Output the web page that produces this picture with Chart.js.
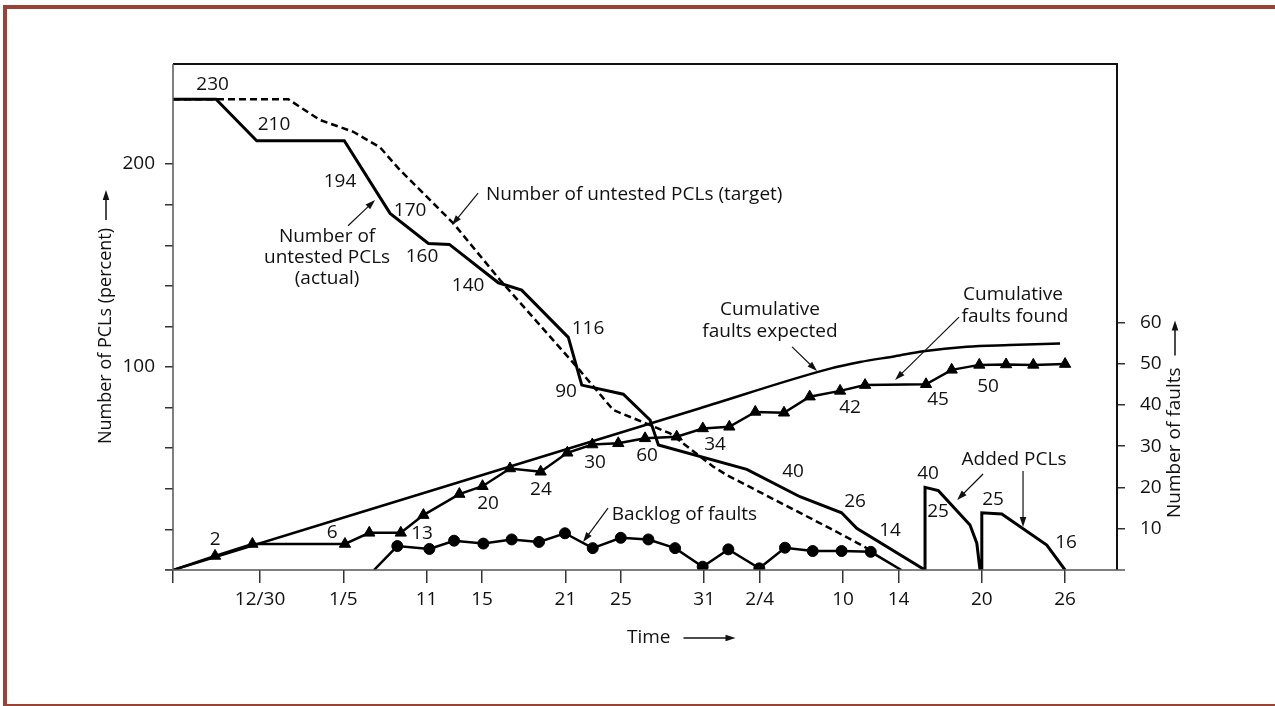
<!DOCTYPE html>
<html>
<head>
<meta charset="utf-8">
<script src="https://cdn.jsdelivr.net/npm/chart.js@4.4.1/dist/chart.umd.min.js"></script>
<style>
  html, body { margin: 0; padding: 0; background: #fff; }
  #wrap { position: relative; width: 1275px; height: 706px; overflow: hidden; }
  #c { position: absolute; left: 0; top: 0; }
  #frame {
    position: absolute; left: 3px; top: 5px; right: -10px; bottom: 0;
    border-top: 4px solid #9b4236; border-left: 4px solid #9b4236; border-bottom: 2px solid #9b4236;
    pointer-events: none;
  }
</style>
</head>
<body>
<div id="wrap">
  <canvas id="c" width="1275" height="706"></canvas>
  <div id="frame"></div>
</div>
<script>
// time axis: days counted from 12/30
const xTickDays = [-6.27, 0, 6, 12, 16, 22, 26, 32, 36, 42, 46, 52, 58];
const xTickLabels = ['', '12/30', '1/5', '11', '15', '21', '25', '31', '2/4', '10', '14', '20', '26'];
const leftTicks = [0, 20, 40, 60, 80, 100, 120, 140, 160, 180, 200];
const rightTicks = [10, 20, 30, 40, 50, 60];

// number of untested PCLs, actual (left axis)
const actualDays = [-6.27, -3.17, -0.24, 6.07, 9.37, 12.13, 13.64, 17.17, 18.85, 22.21, 23.18, 26.17, 28.1, 28.7,
  35.07, 38.9, 41.9, 42.99, 47.91, 47.91, 48.87, 51.15, 51.64, 51.87, 52.0, 52.0, 53.44, 56.68, 58.0];
const actualVals = [231.9, 231.9, 211.5, 211.5, 175.7, 160.9, 160.4, 141.5, 137.9, 114.6, 91.1, 86.6, 73.9, 61.6,
  49.6, 36.1, 28.2, 20.5, 0, 40.7, 39.1, 22.2, 13.2, 0, 0, 28.2, 27.6, 12.3, 0];

// number of untested PCLs, target (left axis)
const targetDays = [-6.27, 2.04, 4.32, 6.72, 8.65, 10.09, 13.93, 17.29, 22.82, 25.45, 28.1, 29.54, 32.66, 33.62, 41.07, 43.59, 44.0];
const targetVals = [231.9, 231.9, 221.7, 215.9, 208.2, 197.0, 170.8, 142.9, 100.1, 78.8, 71.4, 67.3, 50.9, 46.8, 20.5, 11.3, 9.0];

// cumulative faults expected (right axis)
const expectedDays = [-6.27, 31.7, 41.07, 43.23, 45.75, 47.79, 50.92, 54.0, 57.64];
const expectedVals = [0, 39.2, 48.8, 50.4, 51.8, 53.0, 54.1, 54.5, 54.9];

// cumulative faults found (right axis)
const foundDays = [-6.27, -3.24, -0.55, 6.12, 7.87, 10.14, 11.77, 14.36, 16.03, 18.01, 20.22, 22.14, 23.94, 25.81,
  27.74, 30.02, 31.9, 33.81, 35.68, 37.75, 39.6, 41.79, 43.59, 47.98, 49.83, 51.82, 53.75, 55.71, 58.0];
const foundVals = [0, 3.4, 6.3, 6.3, 9.0, 9.0, 13.3, 18.4, 20.3, 24.6, 23.8, 28.4, 30.4, 30.7,
  31.9, 32.3, 34.3, 34.7, 38.3, 38.1, 42.0, 43.4, 44.8, 45.0, 48.5, 49.7, 49.8, 49.7, 49.9];

// backlog of faults (right axis)
const backlogDays = [8.21, 9.89, 12.2, 13.98, 16.09, 18.13, 20.1, 21.97, 23.97, 25.99, 27.98, 29.9, 31.89, 33.74,
  35.97, 37.82, 39.82, 41.9, 44.0, 46.2];
const backlogVals = [0, 5.8, 5.1, 7.1, 6.4, 7.4, 6.8, 8.9, 5.3, 7.8, 7.4, 5.3, 0.8, 5.0, 0.4, 5.4, 4.6, 4.6, 4.4, 0];

// text notes, placed in (day, left-axis value)
const notes = [
  ['230', -3.42, 239.4], ['210', 1.01, 219.2], ['194', 5.76, 191.6], ['170', 10.81, 177.3], ['160', 11.67, 154.2],
  ['140', 14.99, 139.9], ['116', 23.63, 118.7], ['90', 22.05, 87.7], ['60', 27.88, 56.2], ['40', 38.4, 48.3],
  ['26', 42.87, 33.5], ['14', 45.39, 19.2], ['40', 48.13, 47.3], ['25', 48.85, 28.6], ['25', 52.81, 34.5],
  ['16', 58.07, 13.3], ['2', -3.24, 14.8], ['6', 5.19, 18.2], ['13', 11.67, 17.7], ['20', 16.43, 32.5],
  ['24', 20.24, 39.4], ['30', 24.14, 52.7], ['34', 32.78, 61.6], ['42', 42.51, 79.8], ['45', 48.85, 84.2],
  ['50', 52.45, 90.6],
  ['Number of', 4.83, 164.5], ['untested PCLs', 4.83, 153.7], ['(actual)', 4.83, 143.8],
  ['Cumulative', 36.74, 128.1], ['faults expected', 36.74, 117.7],
  ['Cumulative', 54.25, 135.5], ['faults found', 54.39, 124.9],
  ['Added PCLs', 54.32, 54.4], ['Backlog of faults', 30.58, 27.1]
];
const leftNotes = [['Number of untested PCLs (target)', 16.28, 185.0]];
// pointer arrows: from (day, value) to (day, value)
const pointers = [
  [6.34, 169.6, 8.29, 182.3], [15.71, 185.7, 13.83, 170.0], [38.33, 109.9, 40.13, 98.0],
  [50.36, 124.6, 45.75, 93.6], [52.09, 47.3, 50.22, 34.5], [54.97, 48.8, 54.97, 21.2], [25.07, 30.5, 23.27, 13.8]
];

const pts = (xs, ys) => xs.map((x, i) => ({x: x, y: ys[i]}));

function arrow(ctx, x1, y1, x2, y2, w, head) {
  const a = Math.atan2(y2 - y1, x2 - x1);
  const c = Math.cos(a), s = Math.sin(a);
  ctx.lineWidth = w;
  ctx.beginPath();
  ctx.moveTo(x1, y1);
  ctx.lineTo(x2 - c * head * 0.7, y2 - s * head * 0.7);
  ctx.stroke();
  ctx.beginPath();
  ctx.moveTo(x2, y2);
  ctx.lineTo(x2 - head * c + head * 0.33 * s, y2 - head * s - head * 0.33 * c);
  ctx.lineTo(x2 - head * c - head * 0.33 * s, y2 - head * s + head * 0.33 * c);
  ctx.closePath();
  ctx.fill();
}

const overlay = {
  id: 'overlay',
  afterDatasetsDraw(chart) {
    const {ctx, chartArea: a, scales} = chart;
    const X = v => scales.x.getPixelForValue(v);
    const Y = v => scales.yL.getPixelForValue(v);
    ctx.save();
    // plot box
    ctx.strokeStyle = '#111';
    ctx.lineWidth = 2;
    ctx.beginPath();
    ctx.moveTo(a.left, a.top); ctx.lineTo(a.right, a.top); ctx.lineTo(a.right, a.bottom);
    ctx.stroke();
    ctx.strokeStyle = '#555';
    ctx.lineWidth = 1.5;
    ctx.beginPath();
    ctx.moveTo(a.left, a.top); ctx.lineTo(a.left, a.bottom);
    ctx.moveTo(a.left - 8, a.bottom); ctx.lineTo(a.right + 8, a.bottom);
    ctx.stroke();

    ctx.fillStyle = '#111';
    ctx.strokeStyle = '#111';
    ctx.font = "19px 'Open Sans', sans-serif";
    ctx.textBaseline = 'middle';
    ctx.textAlign = 'center';
    notes.forEach(n => ctx.fillText(n[0], X(n[1]), Y(n[2])));
    ctx.textAlign = 'left';
    leftNotes.forEach(n => ctx.fillText(n[0], X(n[1]), Y(n[2])));
    pointers.forEach(p => arrow(ctx, X(p[0]), Y(p[1]), X(p[2]), Y(p[3]), 1.2, 10));

    // axis titles
    const mid = (a.top + a.bottom) / 2;
    ctx.font = "18px 'Open Sans', sans-serif";
    let t = 'Number of PCLs (percent)';
    let w = ctx.measureText(t).width;
    let total = w + 8 + 30;
    ctx.save();
    ctx.translate(106, mid + total / 2);
    ctx.rotate(-Math.PI / 2);
    ctx.fillText(t, 0, 0);
    arrow(ctx, w + 8, 0, w + 38, 0, 1.5, 10);
    ctx.restore();

    ctx.font = "19px 'Open Sans', sans-serif";
    t = 'Number of faults';
    w = ctx.measureText(t).width;
    ctx.save();
    ctx.translate(1175, 518);
    ctx.rotate(-Math.PI / 2);
    ctx.fillText(t, 0, 0);
    arrow(ctx, w + 12, 0, w + 47, 0, 1.5, 10);
    ctx.restore();

    t = 'Time';
    w = ctx.measureText(t).width;
    ctx.fillText(t, 627, 638);
    arrow(ctx, 627 + w + 13, 638, 627 + w + 65, 638, 1.5, 10);
    ctx.restore();
  }
};

Chart.defaults.font.family = "'Open Sans', sans-serif";
Chart.defaults.font.size = 19;
Chart.defaults.color = '#111';

const tickGrid = len => ({display: true, drawOnChartArea: false, drawTicks: true, tickLength: len, color: '#333', lineWidth: 1.5});

new Chart(document.getElementById('c').getContext('2d'), {
  type: 'line',
  data: {
    datasets: [
      {
        label: 'Number of untested PCLs (actual)',
        data: pts(actualDays, actualVals),
        yAxisID: 'yL', borderColor: '#000', borderWidth: 3, pointRadius: 0, tension: 0, fill: false
      },
      {
        label: 'Number of untested PCLs (target)',
        data: pts(targetDays, targetVals),
        yAxisID: 'yL', borderColor: '#000', borderWidth: 2.5, borderDash: [7, 4], pointRadius: 0, tension: 0, fill: false
      },
      {
        label: 'Cumulative faults expected',
        data: pts(expectedDays, expectedVals),
        yAxisID: 'yR', borderColor: '#000', borderWidth: 2.5, pointRadius: 0, cubicInterpolationMode: 'monotone', fill: false
      },
      {
        label: 'Cumulative faults found',
        data: pts(foundDays, foundVals),
        yAxisID: 'yR', borderColor: '#000', borderWidth: 2.5, tension: 0, fill: false,
        pointStyle: 'triangle', pointRadius: foundDays.map((d, i) => i === 0 ? 0 : 6.5),
        pointBackgroundColor: '#000', pointBorderColor: '#000', pointBorderWidth: 1
      },
      {
        label: 'Backlog of faults',
        data: pts(backlogDays, backlogVals),
        yAxisID: 'yR', borderColor: '#000', borderWidth: 2.5, tension: 0, fill: false,
        pointStyle: 'circle', pointRadius: backlogDays.map((d, i) => (i === 0 || i === backlogDays.length - 1) ? 0 : 5.5),
        pointBackgroundColor: '#000', pointBorderColor: '#000', pointBorderWidth: 1
      }
    ]
  },
  options: {
    responsive: false,
    animation: false,
    layout: {padding: {top: 64, left: 0, right: 0, bottom: 0}},
    plugins: {legend: {display: false}, tooltip: {enabled: false}},
    scales: {
      x: {
        type: 'linear', position: 'bottom', min: -6.27, max: 61.74,
        afterBuildTicks: s => { s.ticks = xTickDays.map(v => ({value: v})); },
        afterFit: s => { s.height = 136; },
        ticks: {autoSkip: false, maxRotation: 0, padding: 5, callback: (v, i) => xTickLabels[i]},
        grid: tickGrid(13),
        border: {display: false}
      },
      yL: {
        type: 'linear', position: 'left', min: 0, max: 249.3,
        afterBuildTicks: s => { s.ticks = leftTicks.map(v => ({value: v})); },
        afterFit: s => { s.width = 173; },
        ticks: {padding: 10, callback: v => (v === 100 || v === 200) ? String(v) : ''},
        grid: tickGrid(8),
        border: {display: false}
      },
      yR: {
        type: 'linear', position: 'right', min: 0, max: 122.6,
        afterBuildTicks: s => { s.ticks = rightTicks.map(v => ({value: v})); },
        afterFit: s => { s.width = 158; },
        ticks: {padding: 15, callback: v => String(v)},
        grid: tickGrid(8),
        border: {display: false}
      }
    }
  },
  plugins: [overlay]
});
</script>
</body>
</html>
